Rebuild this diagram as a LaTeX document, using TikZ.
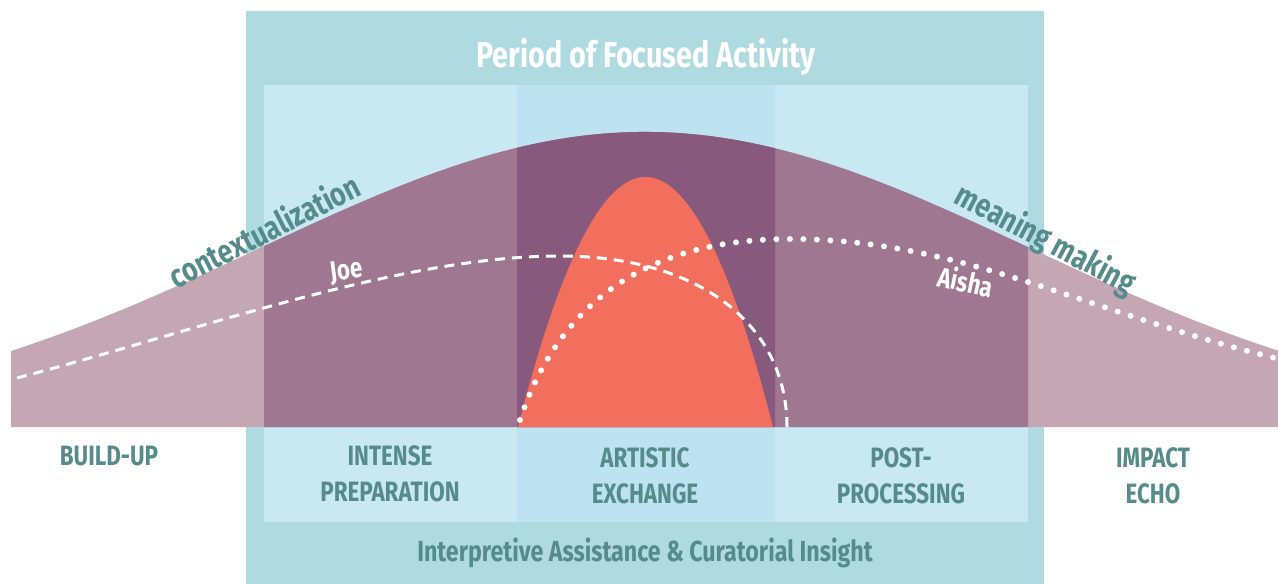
\documentclass[tikz,border=0pt]{standalone}
\usepackage{fontspec}
\setmainfont{Fira Sans}[FakeStretch=0.8]
\definecolor{outerT}{HTML}{AFDAE0}
\definecolor{panelA}{HTML}{C8E9F2}
\definecolor{panelB}{HTML}{BCE3EF}
\definecolor{mauveL}{HTML}{C5A6B3}
\definecolor{mauveM}{HTML}{9F7791}
\definecolor{mauveD}{HTML}{87597D}
\definecolor{peak}{HTML}{F16F5C}
\definecolor{tealT}{HTML}{568B8B}
\tikzset{
  phase/.style={text=tealT, font=\bfseries\fontsize{28}{36}\selectfont, align=center, inner sep=0pt},
  title/.style={text=white, font=\bfseries\fontsize{36}{40}\selectfont, inner sep=0pt},
  footer/.style={text=tealT, font=\bfseries\fontsize{29}{30}\selectfont, inner sep=0pt},
  curvelab/.style={text=tealT, font=\bfseries\fontsize{33}{36}\selectfont, inner sep=0pt},
  person/.style={text=white, font=\bfseries\fontsize{28}{30}\selectfont, inner sep=0pt},
  joeline/.style={white, line width=3pt, dash pattern=on 10pt off 7pt},
  aishaline/.style={white, line width=6pt, line cap=round, dash pattern=on 0pt off 13.5pt},
}
\begin{document}
\begin{tikzpicture}[x=1pt,y=-1pt]
\useasboundingbox (0,0) rectangle (1278,584);
% frames
\fill[outerT] (246,11) rectangle (1044,584);
\fill[panelA] (264,85) rectangle (517,522);
\fill[panelB] (517,85) rectangle (775,522);
\fill[panelA] (775,85) rectangle (1028,522);
% bell curve
\def\bellpath{(11,427) -- plot[domain=11:1278,samples=220] (\x,{427-295*exp(-0.5*((\x-645)/385)^2)}) -- (1278,427) -- cycle}
\fill[mauveL] \bellpath;
\begin{scope}
  \clip (264,0) rectangle (1028,427);
  \fill[mauveM] \bellpath;
\end{scope}
\begin{scope}
  \clip (517,0) rectangle (775,427);
  \fill[mauveD] \bellpath;
\end{scope}
% peak of artistic exchange
\fill[peak] (518,427) -- plot[domain=518:773,samples=120] (\x,{427-250*(1-((\x-645.5)/127.5)^2)}) -- cycle;
% Joe and Aisha curves
\coordinate (j0) at (17,378);
\coordinate (j1) at (560,256);
\coordinate (j2) at (787,427);
\draw[joeline] (j0) .. controls (200,330) and (400,256) .. (j1) .. controls (700,256) and (787,325) .. (j2);
\coordinate (a0) at (520,420);
\coordinate (a1) at (790,239);
\coordinate (a2) at (1275,358);
\draw[aishaline] (a0) .. controls (560,300) and (650,239) .. (a1) .. controls (960,239) and (1080,310) .. (a2);
% texts
\node[title] (ttl) at (646,57) {Period of Focused Activity};
\node[phase] (bu) at (109,456) {BUILD-UP};
\node[phase] (ip) at (390,474) {INTENSE\\PREPARATION};
\node[phase] (ae) at (645,476) {ARTISTIC\\EXCHANGE};
\node[phase] (pp) at (901,476) {POST-\\PROCESSING};
\node[phase] (ie) at (1153,476) {IMPACT\\ECHO};
\node[footer] (ft) at (645,553) {Interpretive Assistance \& Curatorial Insight};
\node[curvelab, rotate=27] (ctx) at (264,230) {contextualization};
\node[curvelab, rotate=-28] (mm) at (1045,240) {meaning making};
\node[person, rotate=8] (joe) at (347,272) {Joe};
\node[person, rotate=-12] (ai) at (966,281) {Aisha};
\end{tikzpicture}
\end{document}
